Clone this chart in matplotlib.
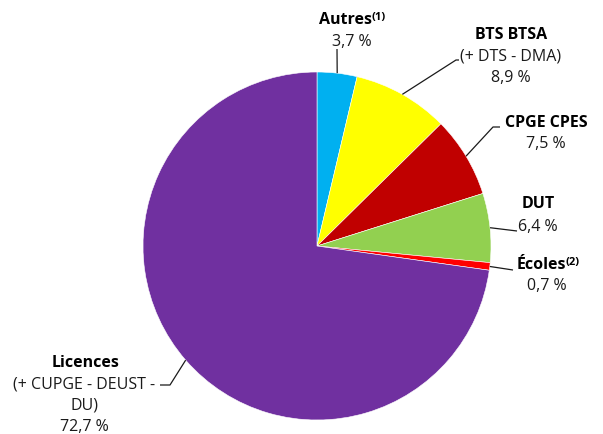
import matplotlib
matplotlib.use("Agg")
import matplotlib.pyplot as plt
import numpy as np

# ---- data ----
categories = ["Autres", "BTS BTSA", "CPGE CPES", "DUT", "Écoles", "Licences"]
values = [3.7, 8.9, 7.5, 6.4, 0.7, 72.7]
value_labels = ["3,7 %", "8,9 %", "7,5 %", "6,4 %", "0,7 %", "72,7 %"]
sub_labels = ["", "(+ DTS - DMA)", "", "", "", "(+ CUPGE - DEUST -\nDU)"]
sup_labels = ["(1)", "", "", "", "(2)", ""]
colors = ["#00B0F0", "#FFFF00", "#C00000", "#92D050", "#FF0000", "#7030A0"]

W, H = 603, 435
plt.rcParams['font.family'] = ['Open Sans', 'DejaVu Sans']

fig = plt.figure(figsize=(W / 100, H / 100), dpi=100)
ax = fig.add_axes([0, 0, 1, 1])

def Y(py):
    return H - py

cx, cy, R = 317, Y(247), 174
wedges, _ = ax.pie(values, colors=colors, startangle=90, counterclock=False,
                   center=(cx, cy), radius=R, frame=True,
                   wedgeprops=dict(edgecolor='white', linewidth=0.4))
ax.set_xlim(0, W)
ax.set_ylim(0, H)
ax.set_aspect('equal')
ax.axis('off')

# layout: label positions and leader elbow points (pixel coords)
layout = {
    "Autres":    dict(x=352, y=20, bold_x=345, elbow=[(337, 50)]),
    "BTS BTSA":  dict(x=511, y=35, bold_x=511, elbow=[(456, 61), (459, 61)]),
    "CPGE CPES": dict(x=546, y=123, bold_x=546, elbow=[(493, 128), (500, 128)]),
    "DUT":       dict(x=538, y=204, bold_x=538, elbow=[(517, 232)], vy=227),
    "Écoles":    dict(x=547, y=265, bold_x=541, elbow=[(513, 271)]),
    "Licences":  dict(x=84, y=363, bold_x=86, elbow=[(170, 386), (160, 386)]),
}

fs = 11.5
lh = 21.5
for i, (cat, w) in enumerate(zip(categories, wedges)):
    L = layout[cat]
    t = ax.text(L["bold_x"], Y(L["y"]), cat, ha='center', va='center',
                fontsize=fs, fontweight='bold', color='black')
    if sup_labels[i]:
        ax.annotate(sup_labels[i], xy=(1.0, 1.0), xycoords=t, ha='left', va='top',
                    fontsize=8, fontweight='bold', color='black')
    ypos = L["y"]
    if sub_labels[i]:
        for line in sub_labels[i].split("\n"):
            ypos += lh
            ax.text(L["x"], Y(ypos), line, ha='center', va='center', fontsize=fs,
                    color='#1a1a1a')
    ypos = L.get("vy", ypos + lh)
    ax.text(L["x"], Y(ypos), value_labels[i], ha='center', va='center', fontsize=fs,
            color='#1a1a1a')
    # leader line from wedge edge midpoint
    mid = np.deg2rad((w.theta1 + w.theta2) / 2)
    px, py = cx + R * np.cos(mid), cy + R * np.sin(mid)
    xs = [px] + [e[0] for e in L["elbow"]]
    ys = [py] + [Y(e[1]) for e in L["elbow"]]
    ax.plot(xs, ys, color='#1a1a1a', linewidth=0.9, solid_capstyle='butt')

fig.savefig("out.png", dpi=100)
